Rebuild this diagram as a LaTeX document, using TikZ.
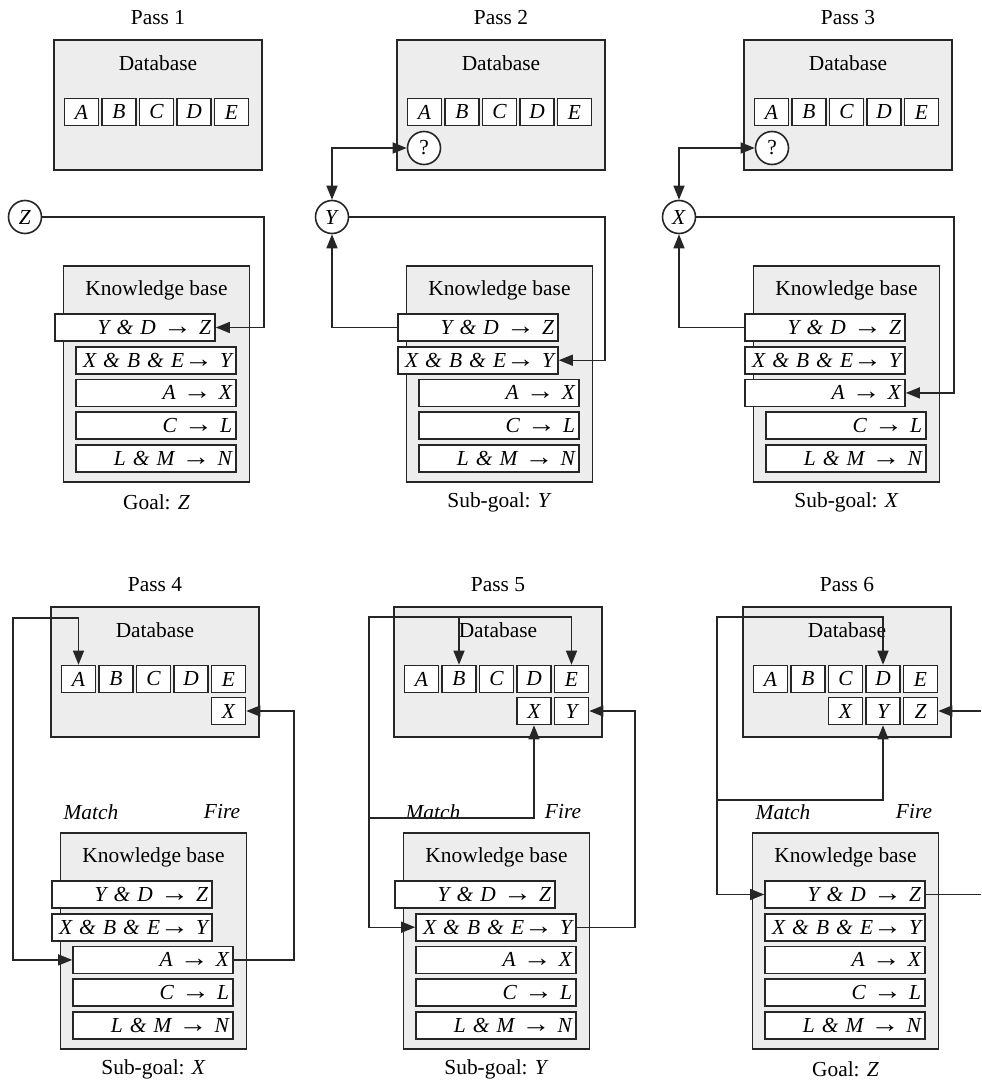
\documentclass[tikz,border=0pt]{standalone}
\usepackage{fontspec}
\setmainfont{Liberation Serif}
\usepackage{tikz}
\usetikzlibrary{arrows.meta,calc}
\newcommand{\too}{{\upshape\scalebox{1.35}[1.2]{\bfseries →}}}
\newcommand{\rulelist}{1/{Y \& D \too{} Z}, 2/{X \& B \& E\too{} Y}, 3/{A \too{} X}, 4/{C \too{} L}, 5/{L \& M \too{} N}}

\begin{document}
\begin{tikzpicture}[
  x=0.5pt, y=-0.5pt,
  every node/.style={font=\fontsize{10.7}{12}\selectfont},
  panel/.style={rectangle, draw=black!85, fill=black!7, line width=0.9pt, inner sep=0pt},
  dbbox/.style={panel, minimum width=104pt, minimum height=65pt},
  kbbox/.style={panel, minimum width=93pt, minimum height=108pt},
  cell/.style={rectangle, draw=black!85, fill=white, line width=0.8pt, minimum width=17pt, minimum height=13.5pt, inner sep=0pt, font=\fontsize{10.7}{12}\selectfont\itshape},
  rulebox/.style={rectangle, draw=black!85, fill=white, line width=0.8pt, text width=76pt, inner xsep=2pt, inner ysep=0pt, minimum height=13.5pt, align=right, font=\fontsize{10.7}{12}\selectfont\itshape},
  goalnode/.style={circle, draw=black!85, fill=white, line width=0.8pt, minimum size=16.5pt, inner sep=0pt},
  tag/.style={font=\fontsize{10.7}{12}\selectfont\itshape},
  arr/.style={->, >={Triangle[length=7pt, width=5.5pt]}, line width=0.7pt, draw=black!85},
  wire/.style={line width=0.7pt, draw=black!85}
]
\useasboundingbox (0,0) rectangle (981,1086);

%% six passes: database, knowledge base and the rules in each
\foreach \p/\d/\ty/\s/\g in {1/54/0/1/{Goal: \textit{Z}}, 2/397/0/2/{Sub-goal: \textit{Y}}, 3/744/0/3/{Sub-goal: \textit{X}},
    4/51/567/2/{Sub-goal: \textit{X}}, 5/394/567/1/{Sub-goal: \textit{Y}}, 6/743/567/0/{Goal: \textit{Z}}} {
  \node (pass\p) at ({\d+104}, {18+\ty}) {Pass \p};
  \node[dbbox] (db\p) at ({\d+104}, {105+\ty}) {};
  \node (dbl\p) at ({\d+104}, {63+\ty}) {Database};
  \foreach \v [count=\j from 0] in {A,B,C,D,E} {
    \node[cell] (p\p\v) at ({\d+27.5+\j*37.5}, {112+\ty}) {\v};
  }
  \node[kbbox] (kb\p) at ({\d+102.5}, {374+\ty}) {};
  \node (kbl\p) at ({\d+102.5}, {290+\ty}) {Knowledge base};
  \foreach \i/\t in \rulelist {
    \pgfmathsetmacro{\rx}{\i>\s ? \d+102 : \d+81}
    \node[rulebox] (p\p r\i) at (\rx, {327.5+\ty+(\i-1)*32.7}) {\mbox{\t}};
  }
  \node (gl\p) at ({\d+102.5}, {502+\ty}) {\g};
}

%% Pass 1 -- goal Z
\node[goalnode] (g1) at (25,217) {\textit{Z}};
\draw[arr] (g1.east) -- (264,217) |- (p1r1.east);

%% Pass 2 -- sub-goal Y
\node[goalnode] (g2) at (332,217) {\textit{Y}};
\node[goalnode] (q2) at (424,148) {?};
\draw[arr, <->] (g2.north) |- (q2.west);
\draw[arr] (p2r1.west) -| (g2.south);
\draw[arr] (g2.east) -- (605,217) |- (p2r2.east);

%% Pass 3 -- sub-goal X
\node[goalnode] (g3) at (679,217) {\textit{X}};
\node[goalnode] (q3) at (772,148) {?};
\draw[arr, <->] (g3.north) |- (q3.west);
\draw[arr] (p3r1.west) -| (g3.south);
\draw[arr] (g3.east) -- (954,217) |- (p3r3.east);

%% Pass 4 -- A -> X fires
\node[cell] (p4X) at (228.5,711) {X};
\node[tag] (mt4) at (91,812) {Match};
\node[tag] (fr4) at (222,812) {Fire};
\coordinate (m4) at (13,618);
\draw[arr, <->] (p4A.north) |- (m4) |- (p4r3.west);
\draw[arr] (p4r3.east) -| ([xshift=23.75pt]p4X.east) -- (p4X.east);

%% Pass 5 -- X & B & E -> Y fires
\node[cell] (p5X) at (534,711) {X};
\node[cell] (p5Y) at (571.5,711) {Y};
\node[tag] (mt5) at (433,812) {Match};
\node[tag] (fr5) at (563,812) {Fire};
\coordinate (m5a) at (369,617);
\coordinate (m5b) at (369,818);
\draw[arr, <->] (p5B.north) |- (m5a) |- (p5r2.west);
\draw[arr] (m5a) -| (p5E.north);
\draw[arr] (m5b) -| (p5X.south);
\draw[arr] (p5r2.east) -| ([xshift=22.75pt]p5Y.east) -- (p5Y.east);

%% Pass 6 -- Y & D -> Z fires
\node[cell] (p6X) at (845.5,711) {X};
\node[cell] (p6Y) at (883,711) {Y};
\node[cell] (p6Z) at (920.5,711) {Z};
\node[tag] (mt6) at (783,812) {Match};
\node[tag] (fr6) at (914,812) {Fire};
\coordinate (m6a) at (717,617);
\coordinate (m6b) at (717,800);
\coordinate (f6) at (981,0);
\draw[arr, <->] (p6D.north) |- (m6a) |- (p6r1.west);
\draw[arr] (m6b) -| (p6Y.south);
\draw[wire] (p6r1.east) -- (p6r1.east -| f6);
\draw[arr] (p6Z.east -| f6) -- (p6Z.east);
\end{tikzpicture}
\end{document}
